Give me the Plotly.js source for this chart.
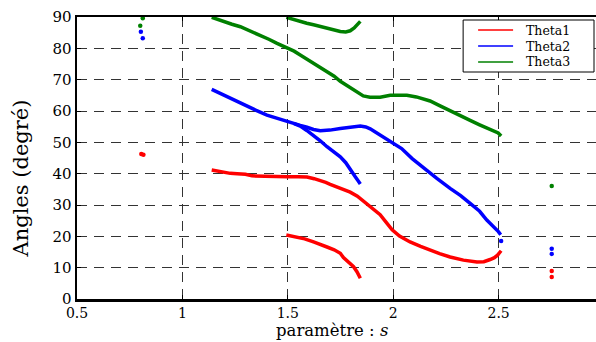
<!DOCTYPE html>
<html>
<head>
<meta charset="utf-8">
<script src="https://cdn.plot.ly/plotly-3.0.1.min.js"></script>
<style>
html,body{margin:0;padding:0;overflow:hidden;background:#fff;}
#chart{width:606px;height:342px;}
</style>
</head>
<body>
<div id="chart"></div>
<script>
// ---- Data ----
// Theta1 (red): two continuous branches separated by null
var s1 = [1.139,1.18,1.227,1.26,1.299,1.33,1.40,1.497,1.55,1.591,1.625,1.654,1.68,1.701,1.749,1.796,1.83,1.859,1.90,1.938,1.965,1.995,2.03,2.08,2.13,2.175,2.22,2.27,2.333,2.397,2.43,2.46,2.48,2.495,2.505,2.512,
          null,
          1.493,1.52,1.544,1.58,1.622,1.656,1.686,1.72,1.749,1.764,1.79,1.812,1.828,1.844];
var theta1 = [41.2,40.6,40.1,40.0,39.8,39.3,39.1,39.0,39.0,38.9,38.4,37.9,37.2,36.6,35.3,34.1,32.8,31.2,29.0,26.9,24.6,22.1,20.1,18.2,16.8,15.6,14.5,13.4,12.4,11.8,11.9,12.6,13.2,14.0,15.0,15.4,
          null,
          20.4,20.0,19.8,19.2,18.2,17.5,16.6,15.7,14.6,13.2,11.8,10.3,8.7,6.6];
var s1Iso = [0.805,0.815,2.752,2.752];
var theta1Iso = [46.3,46.0,8.9,7.0];

// Theta2 (blue)
var s2 = [1.139,1.18,1.227,1.27,1.307,1.35,1.401,1.45,1.497,1.53,1.559,1.591,1.622,1.654,1.70,1.749,1.80,1.844,1.87,1.891,1.915,1.938,1.965,1.995,2.04,2.09,2.13,2.175,2.207,2.27,2.32,2.365,2.41,2.444,2.475,2.499,2.51,
          null,
          1.53,1.559,1.59,1.622,1.654,1.686,1.72,1.749,1.775,1.796,1.82,1.835,1.844];
var theta2 = [66.9,65.6,64.1,62.6,61.3,60.2,58.7,57.6,56.6,56.0,55.4,54.8,54.1,53.7,53.9,54.4,54.8,55.2,54.9,54.3,53.3,52.3,51.2,50.0,48.0,44.8,42.6,40.2,38.5,35.3,33.0,30.5,28.0,25.2,23.2,21.5,20.5,
          null,
          56.0,55.2,53.8,52.3,50.5,48.6,47.0,45.4,43.5,41.6,39.0,37.6,36.7];
var s2Iso = [0.803,0.812,2.512,2.752,2.752];
var theta2Iso = [85.3,83.2,18.5,16.0,14.4];

// Theta3 (green)
var s3 = [1.139,1.196,1.235,1.275,1.32,1.37,1.41,1.449,1.498,1.53,1.559,1.59,1.622,1.655,1.686,1.72,1.749,1.775,1.796,1.83,1.858,1.89,1.938,1.986,2.02,2.065,2.11,2.14,2.175,2.22,2.27,2.32,2.365,2.41,2.46,2.498,2.512,
          null,
          1.493,1.53,1.559,1.59,1.622,1.655,1.686,1.72,1.749,1.775,1.796,1.815,1.828,1.844];
var theta3 = [89.9,88.5,87.7,86.9,85.6,84.2,82.9,81.6,80.2,79.1,77.9,76.6,75.2,73.9,72.6,71.1,69.5,68.4,67.2,65.8,64.8,64.4,64.4,65.0,65.1,65.0,64.5,64.0,63.2,61.7,60.0,58.5,57.0,55.6,54.2,53.0,52.0,
          null,
          89.9,89.2,88.4,88.0,87.5,86.9,86.3,85.8,85.4,85.2,85.6,86.5,87.5,88.6];
var s3Iso = [0.812,0.800,2.752];
var theta3Iso = [89.6,87.2,36.1];

var names = ['Theta1','Theta2','Theta3'];
var xTicks = [0.5,1,1.5,2,2.5];
var xTickText = ['0.5','1','1.5','2','2.5'];
var yTicks = [0,10,20,30,40,50,60,70,80,90];

// ---- Styling ----
var colors = ['#ff0000','#0000ff','#008000'];
var FONT = 'DejaVu Serif, Liberation Serif, serif';

function lineTrace(x,y,i){
  return {x:x,y:y,name:names[i],mode:'lines',type:'scatter',showlegend:false,
    line:{color:colors[i],width:3.5},connectgaps:false};
}
function dotTrace(x,y,i){
  return {x:x,y:y,mode:'markers',type:'scatter',showlegend:false,
    marker:{color:colors[i],size:4.5}};
}

var data = [
  lineTrace(s1,theta1,0),
  lineTrace(s2,theta2,1),
  lineTrace(s3,theta3,2),
  dotTrace(s1Iso,theta1Iso,0),
  dotTrace(s2Iso,theta2Iso,1),
  dotTrace(s3Iso,theta3Iso,2)
];

// plot-area geometry (pixels) used to place legend box in paper coords
var PL = 76.5, PW = 527.5, PT = 17, PH = 282;
function xp(px){ return (px-PL)/PW; }
function yp(py){ return 1-(py-PT)/PH; }

var shapes = [
  {type:'rect', xref:'paper', yref:'paper', x0:xp(463), x1:xp(594), y0:yp(72), y1:yp(20),
   line:{color:'#000',width:1}, fillcolor:'#fff', layer:'above'}
];
var annotations = [
  {text:'paramètre : <i>s</i>', xref:'paper', yref:'paper', x:0.484, y:0, xanchor:'center', yanchor:'top', yshift:-21, showarrow:false,
   borderpad:0, font:{family:FONT,size:16.5,color:'#000'}},
  {text:'Angles (degré)', xref:'paper', yref:'paper', x:-0.107, y:0.426, xanchor:'center', yanchor:'middle', textangle:-90, showarrow:false,
   font:{family:FONT,size:21,color:'#000'}}
];
var legendRows = [30, 46, 62];
for (var i=0;i<3;i++){
  shapes.push({type:'line', xref:'paper', yref:'paper', x0:xp(478), x1:xp(513), y0:yp(legendRows[i]), y1:yp(legendRows[i]),
    line:{color:colors[i],width:1.5}, layer:'above'});
  annotations.push({text:names[i], xref:'paper', yref:'paper', x:xp(525), y:yp(legendRows[i]), xanchor:'left', yanchor:'middle',
    showarrow:false, borderpad:0, font:{family:FONT,size:12.5,color:'#000'}});
}

var axisCommon = {
  showgrid:true, gridcolor:'#333', gridwidth:1, griddash:'10px,7px',
  zeroline:false, showline:true, linecolor:'#000', linewidth:2.5,
  ticks:'inside', ticklen:4, tickcolor:'#000', tickwidth:1
};

var layout = {
  width:606, height:342,
  margin:{l:PL, r:606-PL-PW, t:PT, b:342-PT-PH},
  paper_bgcolor:'#fff', plot_bgcolor:'#fff',
  showlegend:false,
  xaxis:Object.assign({}, axisCommon, {range:[0.5,3], tickvals:xTicks, ticktext:xTickText, mirror:'ticks',
    tickfont:{family:FONT,size:14,color:'#000'}}),
  yaxis:Object.assign({}, axisCommon, {range:[0,90], tickvals:yTicks, mirror:'ticks',
    tickfont:{family:FONT,size:15,color:'#000'}}),
  shapes:shapes,
  annotations:annotations
};

Plotly.newPlot('chart', data, layout, {staticPlot:true, displayModeBar:false});
</script>
</body>
</html>
